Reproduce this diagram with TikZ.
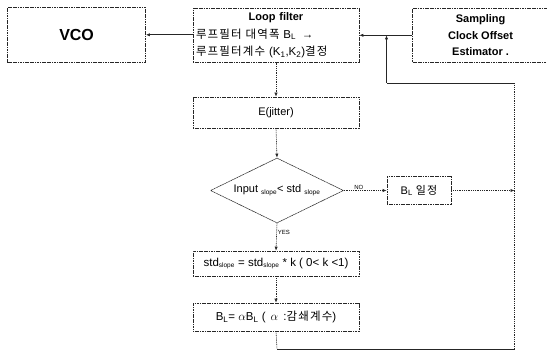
\documentclass[tikz,border=0pt]{standalone}
\usepackage{fontspec}
\setmainfont{Liberation Sans}
\newfontfamily\kr{Noto Sans CJK KR}[LetterSpace=10]
\usetikzlibrary{arrows.meta,shapes.geometric}

\tikzset{
  blk/.style={draw=black!85, line width=0.6pt, dash pattern=on 1.2pt off 0.5pt,
              rectangle, inner sep=1pt, align=center},
  flow/.style={draw=black!85, line width=0.6pt, dash pattern=on 1pt off 0.8pt,
               -{Latex[length=4pt,width=3.2pt]}},
  solidflow/.style={draw=black!85, line width=0.7pt, -{Latex[length=4pt,width=3.2pt]}},
  wire/.style={draw=black!85, line width=0.6pt},
  tag/.style={font=\fontsize{6}{6}\selectfont, inner sep=1pt},
}
\newcommand{\Bl}{B\textsubscript{L}}
\newcommand{\slp}[1]{#1\textsubscript{\fontsize{6.5}{6.5}\selectfont slope}}

\begin{document}
\begin{tikzpicture}[x=1pt,y=-1pt]
\useasboundingbox (0,0) rectangle (547,353);

% top row of blocks
\node[blk, minimum width=138pt, minimum height=55pt,
      font=\fontsize{16}{16}\bfseries\selectfont] (vco) at (76.6,34.8) {VCO};
\node[blk, minimum width=166pt, minimum height=54pt, text width=160pt, align=left,
      font=\fontsize{11.5}{17.5}\selectfont] (loop) at (276,35.3)
  {\makebox[160pt][c]{\bfseries\fontsize{11}{17.5}\selectfont Loop filter}\\
   {\kr 루프필터 대역폭} \Bl{} \,→\\
   {\kr 루프필터계수} (K\textsubscript{1},K\textsubscript{2}){\kr 결정}};
\node[blk, minimum width=136pt, minimum height=54pt,
      font=\fontsize{11}{16.5}\bfseries\selectfont] (soe) at (480.6,35.3)
  {Sampling\\Clock Offset\\Estimator .};

% flowchart column
\node[blk, minimum width=166pt, minimum height=31pt,
      font=\fontsize{11}{11}\selectfont] (ej) at (276,112.5) {E(jitter)};
\node[blk, diamond, aspect=2, minimum width=133pt, minimum height=65pt, inner sep=0pt,
      font=\fontsize{11}{11}\selectfont] (dec) at (277,190.5)
  {Input \slp{}< std \slp{}};
\node[blk, minimum width=64pt, minimum height=28pt,
      font=\fontsize{11}{11}\selectfont] (fix) at (419,190.5) {\Bl{} {\kr 일정}};
\node[blk, minimum width=166pt, minimum height=25pt,
      font=\fontsize{11.5}{11.5}\selectfont] (std) at (276,263.5)
  {\slp{std} = \slp{std} * k ( 0< k <1)};
\node[blk, minimum width=166pt, minimum height=28pt,
      font=\fontsize{11.5}{11.5}\selectfont] (bl) at (276,317)
  {\Bl= $\alpha$\Bl{} ( \,$\alpha$ \,:{\kr 감쇄계수})};

% feedback path corners
\coordinate (c1) at (277,349);
\coordinate (c2) at (514.5,349);
\coordinate (c3) at (514.5,83);
\coordinate (c4) at (386.5,83);
\coordinate (c5) at (386.5,35.3);
\coordinate (c6) at (514.5,190.5);

% connectors
\draw[solidflow] (loop.west |- vco.east) -- (vco.east);
\draw[solidflow] (soe.west) -- (loop.east);
\draw[flow] (loop.south) -- (ej.north);
\draw[flow] (ej.south) -- (dec.north);
\draw[flow] (dec.south) -- node[tag, right, pos=0.35] {YES} (std.north);
\draw[flow] (dec.east) -- node[tag, above, pos=0.35] {NO} (fix.west);
\draw[flow] (fix.east) -- (c6);
\draw[flow] (std.south) -- (bl.north);
\draw[wire, dash pattern=on 1pt off 0.8pt] (bl.south) -- (c1);
\draw[wire] (c1) -- (c2);
\draw[wire, dash pattern=on 1pt off 0.8pt] (c2) -- (c3);
\draw[wire] (c3) -- (c4);
\draw[solidflow] (c4) -- (c5);
\end{tikzpicture}
\end{document}
